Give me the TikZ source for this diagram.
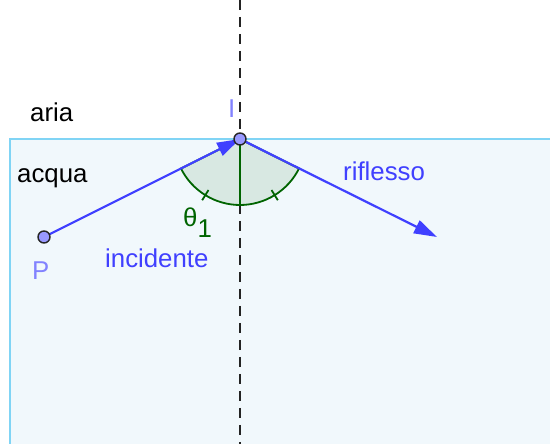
\documentclass[tikz,border=0pt]{standalone}
\usepackage{fontspec}
\setmainfont{Liberation Sans}
\usetikzlibrary{arrows.meta, positioning, calc}
\definecolor{rayBlue}{RGB}{64,64,255}
\definecolor{ptFill}{RGB}{153,153,255}
\definecolor{ptLabel}{RGB}{130,130,255}
\definecolor{angGreen}{RGB}{0,100,0}
\definecolor{waterFill}{RGB}{241,248,252}
\definecolor{waterLine}{RGB}{128,212,245}
\definecolor{normalInk}{RGB}{35,35,35}

\begin{document}
\begin{tikzpicture}[
        x=1pt,
        y=1pt,
        >={Triangle[length=23pt, width=14pt]},
        font=\fontsize{25.8}{30}\selectfont,
        point/.style={circle, draw=black!85, line width=1.4pt, fill=ptFill,
                      inner sep=0pt, minimum size=12pt},
        ray/.style={->, draw=rayBlue, fill=rayBlue, line width=2.2pt},
        normal/.style={draw=normalInk, line width=2pt, dash pattern=on 10pt off 7pt},
        sector/.style={draw=angGreen, line width=1.8pt, fill=angGreen, fill opacity=0.1},
        tick/.style={draw=angGreen, line width=1.8pt},
        lbl/.style={anchor=base west, inner sep=0pt},
        media/.style={lbl, text=black},
        raylbl/.style={lbl, text=rayBlue},
        ptlbl/.style={lbl, text=ptLabel}
    ]
    \useasboundingbox (0,0) rectangle (550,444);

    % Water below the surface
    \fill[waterFill] (10,0) rectangle (550,305);
    \draw[waterLine, line width=1.6pt] (10,0) -- (10,305) -- (550,305);

    % Normal through the point of incidence
    \coordinate (top) at (240,444);
    \coordinate (bottom) at (240,0);
    \draw[normal] (top) -- (bottom);

    % Points and end of the reflected ray
    \coordinate (I) at (240,305);
    \coordinate (P) at (44,207);
    \coordinate (R) at (437,207);

    % Angle sectors with their ticks
    \draw[sector] (I) -- ++(206.57:66) arc[start angle=206.57, end angle=270, radius=66] -- cycle;
    \draw[sector] (I) -- ++(270:66) arc[start angle=270, end angle=333.43, radius=66] -- cycle;
    \draw[tick] ($(I)+(238.3:60)$) -- ($(I)+(238.3:72)$);
    \draw[tick] ($(I)+(301.7:60)$) -- ($(I)+(301.7:72)$);

    % Rays
    \draw[ray] (P) -- (I);
    \draw[ray] (I) -- (R);
    \node[point] (ptP) at (P) {};
    \node[point] (ptI) at (I) {};

    % Labels
    \node[media]  (aria)  at (30,322)  {aria};
    \node[media]  (acqua) at (17,261)  {acqua};
    \node[ptlbl]  (labI)  at (228,326) {I};
    \node[ptlbl]  (labP)  at (32,164)  {P};
    \node[raylbl] (inc)   at (105,176) {incidente};
    \node[raylbl] (rifl)  at (343,263) {riflesso};
    \node[lbl, text=angGreen] (theta) at (183,217) {θ\raisebox{-11pt}{1}};

\end{tikzpicture}
\end{document}
